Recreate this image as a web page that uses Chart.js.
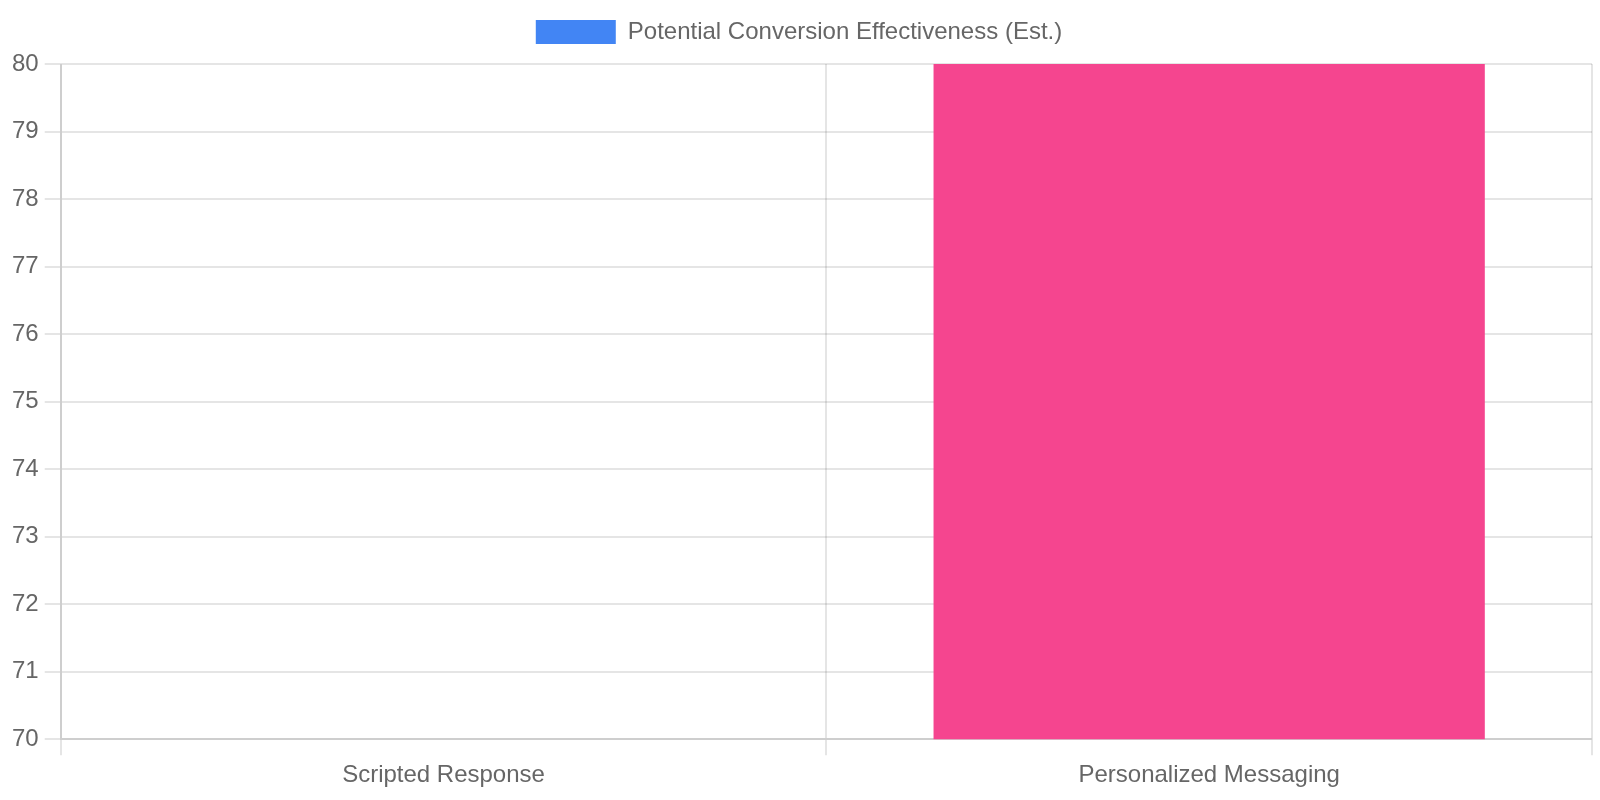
<!DOCTYPE html>
<html>
<head>
<meta charset="utf-8">
<script src="https://cdn.jsdelivr.net/npm/chart.js@4"></script>
<style>
  html, body { margin: 0; padding: 0; background: #fff; }
  #outer { width: 1600px; height: 800px; overflow: hidden; position: relative; }
  #wrap { position: absolute; left: 0; top: 0; width: 800px; height: 400px; transform: scale(2); transform-origin: 0 0; }
</style>
</head>
<body>
<div id="outer"><div id="wrap"><canvas id="c" width="800" height="400"></canvas></div></div>
<script>
const categories = ["Scripted Response", "Personalized Messaging"];
const seriesLabel = "Potential Conversion Effectiveness (Est.)";
const seriesValues = [40, 85];
const barColors = ["#4285F4", "#F5458F"];
const yMin = 70;
const yMax = 80;

Chart.defaults.font.family = "'Liberation Sans', Arial, Helvetica, sans-serif";
Chart.defaults.color = "#666";

new Chart(document.getElementById("c"), {
  type: "bar",
  data: {
    labels: categories,
    datasets: [{
      label: seriesLabel,
      data: seriesValues,
      backgroundColor: barColors
    }]
  },
  options: {
    responsive: false,
    devicePixelRatio: 2,
    animation: false,
    layout: { padding: { left: 3, right: 4, bottom: 2 } },
    plugins: {
      legend: { display: true, position: "top" },
      tooltip: { enabled: false }
    },
    scales: {
      y: { min: yMin, max: yMax, ticks: { stepSize: 1 } },
      x: {}
    }
  }
});
</script>
</body>
</html>
